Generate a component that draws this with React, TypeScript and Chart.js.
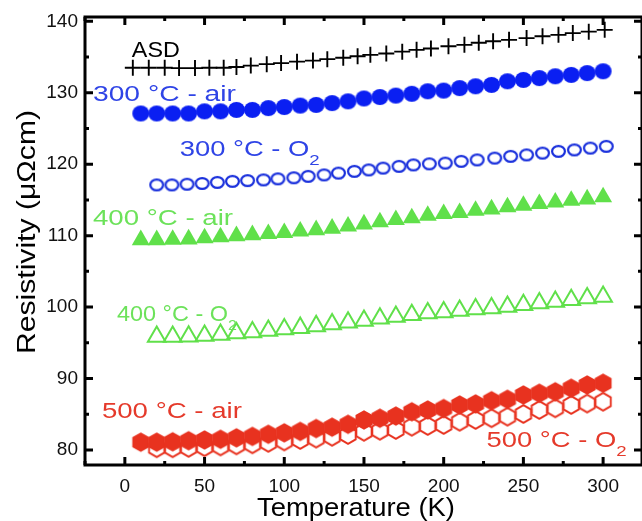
import React, { useEffect, useRef } from 'react';
import { Chart, registerables } from 'chart.js';

Chart.register(...registerables);

// ---------- data ----------
const asdTemp = [5, 15, 25, 34, 44, 53, 62, 70, 79, 89, 98, 108, 118, 127, 137, 146, 154, 164, 174, 183, 192, 203, 213, 222, 231, 241, 252, 262, 272, 281, 291, 301];
const asdRes = [133.5, 133.5, 133.5, 133.45, 133.45, 133.5, 133.5, 133.6, 133.8, 134.0, 134.15, 134.35, 134.5, 134.7, 134.9, 135.1, 135.3, 135.5, 135.75, 136.0, 136.2, 136.5, 136.7, 137.0, 137.2, 137.4, 137.65, 137.9, 138.1, 138.35, 138.55, 138.8];

const tempFrom10 = [10, 20, 30, 40, 50, 60, 70, 80, 90, 100, 110, 120, 130, 140, 150, 160, 170, 180, 190, 200, 210, 220, 230, 240, 250, 260, 270, 280, 290, 300];
const tempFrom20 = [20, 30, 40, 50, 60, 70, 80, 90, 100, 110, 120, 130, 140, 150, 160, 170, 180, 190, 200, 210, 220, 230, 240, 250, 260, 270, 280, 290, 300];
const o2At300Temp = [20, 29.5, 39, 48.5, 58, 67.5, 77, 87, 96, 106, 115, 125, 134, 144, 153, 162, 172, 181, 191, 201, 211, 221, 232, 242, 252, 262, 272, 282, 292, 302];

const air300Res = [127.1, 127.1, 127.1, 127.1, 127.4, 127.4, 127.6, 127.6, 127.85, 128.0, 128.2, 128.3, 128.55, 128.8, 129.2, 129.4, 129.6, 129.85, 130.2, 130.3, 130.65, 130.9, 131.1, 131.6, 131.8, 132.05, 132.3, 132.5, 132.75, 133.0];
const o2300Res = [117.1, 117.1, 117.2, 117.3, 117.45, 117.6, 117.7, 117.8, 117.95, 118.1, 118.3, 118.5, 118.75, 119.0, 119.2, 119.45, 119.7, 119.9, 120.05, 120.15, 120.4, 120.6, 120.85, 121.1, 121.3, 121.55, 121.8, 122.0, 122.25, 122.5];
const air400Res = [109.4, 109.4, 109.45, 109.5, 109.65, 109.8, 109.95, 110.1, 110.25, 110.4, 110.6, 110.8, 111.0, 111.3, 111.6, 111.9, 112.2, 112.46, 112.8, 113.05, 113.2, 113.5, 113.7, 114.0, 114.2, 114.45, 114.65, 114.9, 115.1, 115.4];
const o2400Res = [95.87, 95.87, 95.9, 96.0, 96.15, 96.34, 96.5, 96.7, 96.9, 97.1, 97.35, 97.6, 97.85, 98.1, 98.4, 98.65, 98.9, 99.15, 99.3, 99.5, 99.7, 99.85, 100.07, 100.3, 100.55, 100.77, 101.0, 101.25, 101.47];
const air500Res = [81.1, 81.1, 81.15, 81.3, 81.4, 81.5, 81.7, 81.9, 82.2, 82.4, 82.6, 83.0, 83.2, 83.6, 84.2, 84.45, 84.75, 85.35, 85.6, 85.8, 86.3, 86.45, 86.9, 87.1, 87.7, 87.95, 88.15, 88.65, 89.1, 89.35];
const o2500Res = [80.25, 80.25, 80.3, 80.4, 80.5, 80.65, 80.8, 81.0, 81.2, 81.4, 81.6, 81.85, 82.1, 82.55, 82.7, 82.8, 83.26, 83.36, 83.5, 83.96, 84.2, 84.45, 84.67, 85.04, 85.6, 85.84, 86.3, 86.5, 86.76];

const xTickValues = [0, 50, 100, 150, 200, 250, 300];
const yTickValues = [80, 90, 100, 110, 120, 130, 140];

// annotation labels: text, subscript, anchor temperature, anchor resistivity (baseline-left)
const labelTexts = ['ASD', '300 °C - air', '300 °C - O', '400 °C - air', '400 °C - O', '500 °C - air', '500 °C - O'];
const labelSubs = ['', '', '2', '', '2', '', '2'];
const labelTemp = [4.4, -20, 34.4, -20, -5, -14.4, 226.9];
const labelRes = [135.0, 128.9, 121.1, 111.5, 98.0, 84.44, 80.38];

// ---------- styling ----------
const BLUE = '#0a1ff2';
const BLUE_OPEN = '#1a30dc';
const BLUE_TEXT = '#2f44e6';
const GREEN = '#60e04a';
const GREEN_TEXT = '#6ce25a';
const RED = '#e8321f';
const RED_TEXT = '#e53a2b';
const labelColors = ['#000000', BLUE_TEXT, BLUE_TEXT, GREEN_TEXT, GREEN_TEXT, RED_TEXT, RED_TEXT];
const labelWidths = [48, 143, 140, 140, 120, 140, 140];

function makeEllipse(w: number, h: number, filled: boolean, color: string, lw: number) {
  const c = document.createElement('canvas');
  c.width = w + 4;
  c.height = h + 4;
  const ctx = c.getContext('2d')!;
  ctx.beginPath();
  ctx.ellipse(c.width / 2, c.height / 2, w / 2 - (filled ? 0 : lw / 2), h / 2 - (filled ? 0 : lw / 2), 0, 0, Math.PI * 2);
  if (filled) {
    ctx.fillStyle = color;
    ctx.fill();
  } else {
    ctx.strokeStyle = color;
    ctx.lineWidth = lw;
    ctx.stroke();
  }
  return c;
}

function makeHex(r: number, filled: boolean, color: string, lw: number) {
  const size = Math.ceil(r * 2 + 4);
  const c = document.createElement('canvas');
  c.width = size;
  c.height = size;
  const ctx = c.getContext('2d')!;
  const cx = size / 2;
  const cy = size / 2;
  const rr = filled ? r : r - lw / 2;
  ctx.beginPath();
  for (let i = 0; i < 6; i++) {
    const a = -Math.PI / 2 + (i * Math.PI) / 3;
    const px = cx + rr * Math.cos(a);
    const py = cy + rr * Math.sin(a);
    if (i === 0) ctx.moveTo(px, py);
    else ctx.lineTo(px, py);
  }
  ctx.closePath();
  if (filled) {
    ctx.fillStyle = color;
    ctx.fill();
  } else {
    ctx.strokeStyle = color;
    ctx.lineWidth = lw;
    ctx.stroke();
  }
  return c;
}

const FONT = '"Liberation Sans", Arial, Helvetica, sans-serif';

function drawFitted(ctx: CanvasRenderingContext2D, main: string, sub: string, x: number, y: number, width: number, size: number, color: string) {
  ctx.save();
  ctx.font = `${size}px ${FONT}`;
  const w1 = ctx.measureText(main).width;
  ctx.font = `${Math.round(size * 0.68)}px ${FONT}`;
  const w2 = sub ? ctx.measureText(sub).width : 0;
  const sx = width / (w1 + w2);
  ctx.translate(x, y);
  ctx.scale(sx, 1);
  ctx.fillStyle = color;
  ctx.textBaseline = 'alphabetic';
  ctx.textAlign = 'left';
  ctx.font = `${size}px ${FONT}`;
  ctx.fillText(main, 0, 0);
  if (sub) {
    ctx.font = `${Math.round(size * 0.68)}px ${FONT}`;
    ctx.fillText(sub, w1, size * 0.38);
  }
  ctx.restore();
}

const framePlugin = {
  id: 'frameAndLabels',
  afterDraw(chart: any) {
    const ctx: CanvasRenderingContext2D = chart.ctx;
    const { left, right, top, bottom } = chart.chartArea;
    const xs = chart.scales.x;
    const ys = chart.scales.y;
    ctx.save();
    ctx.strokeStyle = '#000';
    ctx.lineWidth = 3;
    ctx.beginPath();
    ctx.rect(left, top, right - left, bottom - top);
    ctx.stroke();

    // inward ticks
    ctx.lineWidth = 3;
    for (let v = -25; v <= xs.max; v += 25) {
      if (v < xs.min) continue;
      const major = v % 50 === 0;
      const len = major ? 8 : 4;
      const px = xs.getPixelForValue(v);
      ctx.beginPath();
      ctx.moveTo(px, bottom);
      ctx.lineTo(px, bottom - len);
      ctx.moveTo(px, top);
      ctx.lineTo(px, top + len);
      ctx.stroke();
    }
    for (let v = 80; v <= ys.max; v += 5) {
      const major = v % 10 === 0;
      const len = major ? 8 : 4;
      const py = ys.getPixelForValue(v);
      ctx.beginPath();
      ctx.moveTo(left, py);
      ctx.lineTo(left + len, py);
      ctx.moveTo(right, py);
      ctx.lineTo(right - len, py);
      ctx.stroke();
    }

    // annotation labels
    for (let i = 0; i < labelTexts.length; i++) {
      drawFitted(ctx, labelTexts[i], labelSubs[i], xs.getPixelForValue(labelTemp[i]), ys.getPixelForValue(labelRes[i]), labelWidths[i], 22, labelColors[i]);
    }

    // axis titles
    drawFitted(ctx, 'Temperature (K)', '', 257, 516, 198, 26, '#000');
    ctx.save();
    ctx.translate(35, 354);
    ctx.rotate(-Math.PI / 2);
    drawFitted(ctx, 'Resistivity (μΩcm)', '', 0, 0, 244, 25, '#000');
    ctx.restore();
    ctx.restore();
  },
};

const zeroPad = (scale: any) => {
  scale.paddingLeft = 0;
  scale.paddingRight = 0;
  scale.paddingTop = 0;
  scale.paddingBottom = 0;
};

export default function App() {
  const ref = useRef<HTMLCanvasElement>(null);
  useEffect(() => {
    const canvas = ref.current!;
    const filledCircle = makeEllipse(17, 16, true, BLUE, 0);
    const openCircle = makeEllipse(15, 13, false, BLUE_OPEN, 2.2);
    const filledHex = makeHex(9.8, true, RED, 0);
    const openHex = makeHex(9.8, false, RED, 1.9);

    const pts = (t: number[], r: number[]) => t.map((x, i) => ({ x, y: r[i] }));

    const chart = new Chart(canvas, {
      type: 'scatter',
      data: {
        datasets: [
          { label: 'ASD', data: pts(asdTemp, asdRes), pointStyle: 'cross', pointRadius: 8, borderColor: '#000', borderWidth: 1.9, order: 0 },
          { label: '300 °C - air', data: pts(tempFrom10, air300Res), pointStyle: filledCircle, order: 0 },
          { label: '300 °C - O2', data: pts(o2At300Temp, o2300Res), pointStyle: openCircle, order: 0 },
          { label: '400 °C - air', data: pts(tempFrom10, air400Res), pointStyle: 'triangle', pointRadius: 10.4, backgroundColor: GREEN, borderColor: GREEN, borderWidth: 0, order: 0 },
          { label: '400 °C - O2', data: pts(tempFrom20, o2400Res), pointStyle: 'triangle', pointRadius: 10.2, backgroundColor: 'rgba(0,0,0,0)', borderColor: GREEN, borderWidth: 2, order: 0 },
          { label: '500 °C - air', data: pts(tempFrom10, air500Res), pointStyle: filledHex, order: 0 },
          { label: '500 °C - O2', data: pts(tempFrom20, o2500Res), pointStyle: openHex, order: 1 },
        ],
      },
      options: {
        animation: false,
        responsive: false,
        devicePixelRatio: 1,
        layout: { autoPadding: false, padding: { top: 17, right: -2, left: 0, bottom: 0 } },
        plugins: { legend: { display: false }, tooltip: { enabled: false } },
        events: [],
        scales: {
          x: {
            type: 'linear',
            min: -25,
            max: 324.4,
            grid: { display: false, drawTicks: false },
            border: { display: false },
            afterBuildTicks: (scale: any) => {
              scale.ticks = xTickValues.map((v) => ({ value: v }));
            },
            afterFit: (scale: any) => {
              scale.height = 56;
              zeroPad(scale);
            },
            ticks: { color: '#111', padding: 10, maxRotation: 0, font: { family: FONT, size: 19 } },
          },
          y: {
            type: 'linear',
            min: 77.9,
            max: 140.6,
            grid: { display: false, drawTicks: false },
            border: { display: false },
            afterBuildTicks: (scale: any) => {
              scale.ticks = yTickValues.map((v) => ({ value: v }));
            },
            afterFit: (scale: any) => {
              scale.width = 85;
              zeroPad(scale);
            },
            ticks: { color: '#111', padding: 7, font: { family: FONT, size: 19 } },
          },
        },
      },
      plugins: [framePlugin],
    } as any);
    return () => chart.destroy();
  }, []);
  return (
    <div style={{ position: 'fixed', left: 0, top: 0, width: 642, height: 521, background: '#fff' }}>
      <canvas ref={ref} width={642} height={521} style={{ display: 'block', width: 642, height: 521 }} />
    </div>
  );
}
